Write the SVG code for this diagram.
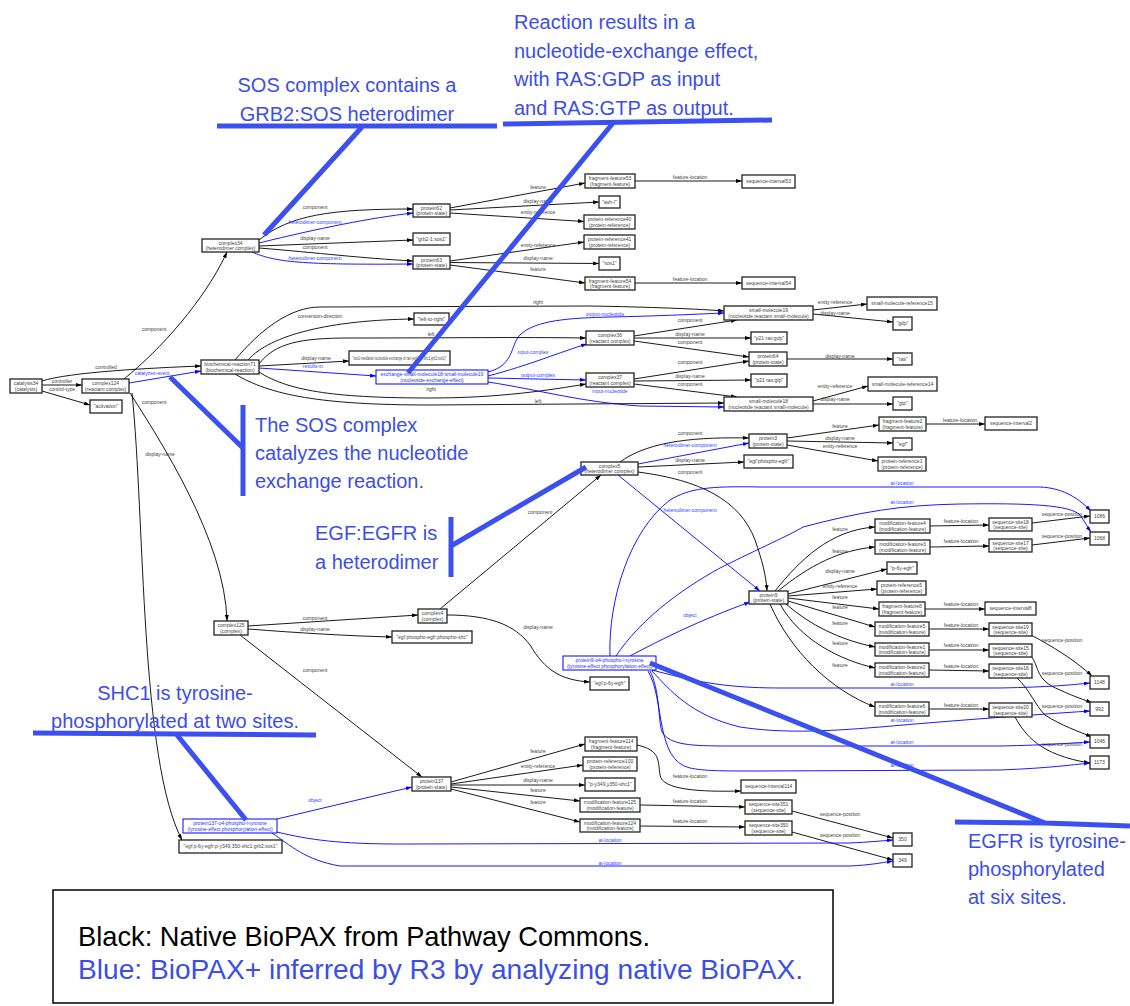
<svg xmlns="http://www.w3.org/2000/svg" width="1130" height="1006" viewBox="0 0 1130 1006">
<defs>
<marker id="ak" markerUnits="userSpaceOnUse" markerWidth="6" markerHeight="4" refX="6" refY="2" orient="auto"><path d="M0,0 L6,2 L0,4 z" fill="#000"/></marker>
<marker id="ab" markerUnits="userSpaceOnUse" markerWidth="6" markerHeight="4" refX="6" refY="2" orient="auto"><path d="M0,0 L6,2 L0,4 z" fill="#0000ff"/></marker>
<style>
.n rect{fill:#fff;stroke:#222;stroke-width:1.3}
.b rect{fill:#fff;stroke:#0000ff;stroke-width:1}
.n text{font-family:"Liberation Sans",Arial,sans-serif;font-size:5px;fill:#444;text-anchor:middle}
.b text{font-family:"Liberation Sans",Arial,sans-serif;font-size:5px;fill:#2233ff;text-anchor:middle}
#edges path{fill:none;stroke:#000;stroke-width:0.9;marker-end:url(#ak)}
#edges path.u{stroke:#0000ff;marker-end:url(#ab)}
#edges text{font-family:"Liberation Sans",Arial,sans-serif;font-size:5px;fill:#444;text-anchor:middle}
#edges text.u{fill:#3344ff}
.ann line,.ann polyline{stroke:#3c50f0;stroke-width:5;fill:none;stroke-linecap:butt}
.ann text{font-family:"Liberation Sans",Arial,sans-serif;font-size:20px;fill:#3c4ee8}
#legend text{font-family:"Liberation Sans",Arial,sans-serif;font-size:28px}
</style>
</defs>
<rect width="1130" height="1006" fill="#fff"/>

<!-- connectors -->
<g id="edges">
<path d="M42,385 L82,385"/><text x="62" y="383">controller</text>
<path d="M42,381 C70,372 150,368 201,366"/><text x="106" y="369">controlled</text>
<path d="M42,391 L90,405"/><text x="62" y="391">control-type</text>
<path d="M124,379 C160,350 205,300 227,252"/><text x="154" y="331">component</text>
<path class="u" d="M129,383 L201,371"/><text class="u" x="152" y="375">catalyzes-event</text>
<path d="M130,393 C160,440 225,540 227,621"/><text x="154" y="404">component</text>
<path d="M132,393 C145,520 140,760 182,840"/><text x="160" y="456">display-name</text>

<path d="M259,240 C290,215 330,209 413,209"/><text x="315" y="209">component</text>
<path class="u" d="M259,243 C320,228 370,218 413,213"/><text class="u" x="315" y="224">heterodimer-component</text>
<path d="M259,246 L413,240"/><text x="315" y="240">display-name</text>
<path d="M259,248 C320,253 360,258 413,261"/><text x="315" y="249">component</text>
<path class="u" d="M252,252 C275,262 300,265 413,264"/><text class="u" x="315" y="260">heterodimer-component</text>

<path d="M450,208 L585,183"/><text x="538" y="189">feature</text>
<path d="M450,210 L599,202"/><text x="538" y="203">display-name</text>
<path d="M450,213 L584,221.5"/><text x="538" y="214">entity-reference</text>
<path d="M450,261 L584,242"/><text x="538" y="247">entity-reference</text>
<path d="M450,262.5 L599,263.5"/><text x="538" y="260">display-name</text>
<path d="M450,265 L585,283"/><text x="538" y="271">feature</text>
<path d="M635,181 L742,181"/><text x="690" y="179">feature-location</text>
<path d="M635,283 L742,283"/><text x="690" y="281">feature-location</text>

<path d="M235,360 C260,330 290,307 320,307 L590,306 C650,307 700,309 724,311"/><text x="538" y="304">right</text>
<path d="M248,360 C270,335 330,320 414,319"/><text x="320" y="318">conversion-direction</text>
<path d="M259,364 C275,343 300,338 350,338 C450,338 520,337 586,338"/><text x="431" y="335.5">left</text>
<path d="M259,366 L349,361"/><text x="316" y="360">display-name</text>
<path class="u" d="M259,368 L376,376"/><text class="u" x="313" y="368">results-in</text>
<path d="M259,372 C290,392 340,398 431,398 C500,398 550,390 586,384"/><text x="431" y="391">right</text>
<path d="M235,374 C270,395 320,405 430,405 L724,403"/><text x="538" y="403">left</text>

<path class="u" d="M488,376 C530,365 560,352 587,344"/><text class="u" x="533" y="354">input-complex</text>
<path class="u" d="M488,372 C515,365 510,345 520,335 C535,320 570,318 610,317 C660,316 700,314 724,313"/><text class="u" x="605" y="316">output-nucleotide</text>
<path class="u" d="M488,378 L586,380"/><text class="u" x="538" y="377">output-complex</text>
<path class="u" d="M488,382 C540,390 580,402 640,406 L724,407"/><text class="u" x="610" y="393">input-nucleotide</text>

<path d="M634,336 L737,320"/><text x="690" y="322">component</text>
<path d="M634,338 L751,338"/><text x="690" y="336">display-name</text>
<path d="M634,341 L749,357"/><text x="690" y="344">component</text>
<path d="M634,379 L749,361"/><text x="690" y="364">component</text>
<path d="M634,381 L751,380"/><text x="690" y="378">display-name</text>
<path d="M634,384 L737,397"/><text x="690" y="386">component</text>
<path d="M813,310 L867,304"/><text x="835" y="304">entity-reference</text>
<path d="M813,314 L893,322"/><text x="835" y="315">display-name</text>
<path d="M787,359 L893,359"/><text x="840" y="357.5">display-name</text>
<path d="M813,401 L868,386"/><text x="835" y="388">entity-reference</text>
<path d="M813,404 L893,404"/><text x="835" y="401">display-name</text>

<path d="M440,609 L601,475"/><text x="540" y="514">component</text>
<path d="M620,462 C650,440 700,437 749,438"/><text x="690" y="435">component</text>
<path class="u" d="M638,464 L749,443"/><text class="u" x="690" y="447">heterodimer-component</text>
<path d="M638,467 L744,462"/><text x="690" y="462">display-name</text>
<path d="M638,472 C700,480 740,500 755,540 C762,560 766,575 767,591"/><text x="690" y="474">component</text>
<path class="u" d="M618,475 L760,591"/><text class="u" x="690" y="512">heterodimer-component</text>
<path d="M787,438 L879,425"/><text x="840" y="427.5">feature</text>
<path d="M787,441 L893,443"/><text x="840" y="440">display-name</text>
<path d="M787,445 L878,461"/><text x="840" y="448">entity-reference</text>
<path d="M926,424 L985,424"/><text x="960" y="422">feature-location</text>

<path d="M775,591 C800,560 830,530 875,527"/><text x="840" y="531">feature</text>
<path d="M778,591 C810,565 840,550 875,547"/><text x="840" y="553">feature</text>
<path d="M788,594 L887,569"/><text x="840" y="573">display-name</text>
<path d="M788,596 L877,589"/><text x="840" y="588">entity-reference</text>
<path d="M788,598 L879,609"/><text x="840" y="599">feature</text>
<path d="M788,601 L875,627"/><text x="840" y="609">feature</text>
<path d="M786,604 C810,625 840,640 875,647"/><text x="840" y="625">feature</text>
<path d="M780,604 C800,640 840,660 875,668"/><text x="840" y="645">feature</text>
<path d="M770,604 C790,650 830,690 875,707"/><text x="840" y="667">feature</text>

<path d="M930,526 L989,525"/><text x="961" y="523">feature-location</text>
<path d="M930,547 L989,546"/><text x="961" y="543">feature-location</text>
<path d="M925,609 L985,609"/><text x="961" y="606">feature-location</text>
<path d="M929,629 L989,629"/><text x="961" y="627">feature-location</text>
<path d="M929,650 L989,650"/><text x="961" y="647">feature-location</text>
<path d="M929,670 L989,671"/><text x="961" y="668">feature-location</text>
<path d="M929,709 L989,709"/><text x="961" y="707">feature-location</text>
<path d="M1032,523 L1090,516"/><text x="1062" y="516">sequence-position</text>
<path d="M1032,545 L1090,538"/><text x="1062" y="538">sequence-position</text>
<path d="M1031,635 C1050,645 1075,660 1092,676"/><text x="1062" y="642">sequence-position</text>
<path d="M1031,656 C1040,668 1035,680 1060,690 C1075,697 1085,700 1092,703"/><text x="1062" y="675">sequence-position</text>
<path d="M1017,678 C1030,690 1035,705 1045,715 C1060,725 1080,732 1092,737"/><text x="1062" y="708">sequence-position</text>
<path d="M1015,717 C1025,735 1040,755 1090,763"/><text x="1062" y="746">sequence-position</text>

<path d="M248,626 L418,615"/><text x="315" y="620">component</text>
<path d="M248,629 C300,633 350,636 392,637"/><text x="315" y="631">display-name</text>
<path d="M240,635 L422,777"/><text x="315" y="672">component</text>
<path d="M447,615 C490,615 515,625 530,645 C545,670 560,680 590,682"/><text x="538" y="629">display-name</text>

<path d="M451,782 L585,744"/><text x="538" y="753">feature</text>
<path d="M451,784 L583,765"/><text x="538" y="768">entity-reference</text>
<path d="M451,785 L585,785"/><text x="538" y="782">display-name</text>
<path d="M451,787 L580,801"/><text x="538" y="792">feature</text>
<path d="M451,789 L580,822"/><text x="538" y="804">feature</text>
<path d="M637,745 C660,750 658,760 660,775 C662,790 700,792 741,791"/><text x="690" y="778">feature-location</text>
<path d="M640,805 L745,807"/><text x="690" y="803">feature-location</text>
<path d="M640,826 L745,827"/><text x="690" y="823">feature-location</text>
<path d="M792,811 L893,838"/><text x="840" y="816">sequence-position</text>
<path d="M792,832 L893,860"/><text x="840" y="837">sequence-position</text>

<path class="u" d="M277,819 L412,787"/><text class="u" x="315" y="802">object</text>
<path class="u" d="M277,832 C310,840 340,844 400,844 L850,843 C870,842 880,841 893,840"/><text class="u" x="610" y="842">at-location</text>
<path class="u" d="M272,833 C290,845 305,860 340,866 L850,866 C870,865 880,863 893,861"/><text class="u" x="610" y="865">at-location</text>

<path class="u" d="M630,656 C660,640 700,620 750,602"/><text class="u" x="690" y="617">object</text>
<path class="u" d="M610,656 C608,600 630,530 670,500 C690,488 710,486 760,487 L1040,487 C1065,488 1080,500 1091,511"/><text class="u" x="902" y="485">at-location</text>
<path class="u" d="M616,656 C640,620 680,590 720,568 C760,548 790,535 803,527 C860,512 900,505 960,504 C1030,503 1070,505 1080,515 C1085,522 1088,528 1091,532"/><text class="u" x="902" y="504">at-location</text>
<path class="u" d="M652,670 C690,680 720,688 780,688 L1000,688 C1050,687 1070,685 1090,683"/><text class="u" x="902" y="686">at-location</text>
<path class="u" d="M652,671 C670,690 690,715 740,727 C780,733 820,732 880,727 C960,720 1030,715 1090,711"/><text class="u" x="902" y="722">at-location</text>
<path class="u" d="M650,671 C660,690 658,720 662,732 C670,745 690,746 730,746 L1000,746 C1050,745 1070,743 1090,742"/><text class="u" x="902" y="744">at-location</text>
<path class="u" d="M648,671 C665,700 655,760 690,768 C705,771 720,771 760,771 L1000,770 C1050,768 1070,765 1090,763"/><text class="u" x="902" y="767">at-location</text>
</g>

<!-- nodes -->
<g id="catalysis34" class="n"><rect x="10" y="379" width="32" height="14"/><text x="26" y="385">catalysis34</text><text x="26" y="390.5">(catalysis)</text></g>
<g id="complex124" class="n"><rect x="82" y="379" width="47" height="14"/><text x="105.5" y="385">complex124</text><text x="105.5" y="390.5">(reactant complex)</text></g>
<g id="activation" class="n"><rect x="90" y="400" width="32" height="13"/><text x="106" y="408.3">"activation"</text></g>
<g id="complex34" class="n"><rect x="202" y="239" width="57" height="13"/><text x="230.5" y="244.8">complex34</text><text x="230.5" y="250">(heterodimer complex)</text></g>
<g id="biochemical-reaction71" class="n"><rect x="201" y="360" width="58" height="14"/><text x="230" y="366">biochemical-reaction71</text><text x="230" y="371.5">(biochemical-reaction)</text></g>
<g id="protein62" class="n"><rect x="413" y="204" width="37" height="13"/><text x="431.5" y="209.8">protein62</text><text x="431.5" y="215">(protein-state)</text></g>
<g id="grb2-sos1" class="n"><rect x="413" y="233" width="37" height="12"/><text x="431.5" y="240.8">"grb2-1:sos1"</text></g>
<g id="protein63" class="n"><rect x="413" y="256" width="37" height="13"/><text x="431.5" y="261.8">protein63</text><text x="431.5" y="267">(protein-state)</text></g>
<g id="fragment-feature53" class="n"><rect x="585" y="174" width="50" height="14"/><text x="610" y="180">fragment-feature53</text><text x="610" y="185.5">(fragment-feature)</text></g>
<g id="sequence-interval53" class="n"><rect x="742" y="175" width="53" height="13"/><text x="768.5" y="183.3">sequence-interval53</text></g>
<g id="ash-l" class="n"><rect x="599" y="196" width="21" height="12"/><text x="609.5" y="203.8">"ash-l"</text></g>
<g id="protein-reference40" class="n"><rect x="584" y="215" width="51" height="14"/><text x="609.5" y="221">protein-reference40</text><text x="609.5" y="226.5">(protein-reference)</text></g>
<g id="protein-reference41" class="n"><rect x="584" y="235" width="51" height="14"/><text x="609.5" y="241">protein-reference41</text><text x="609.5" y="246.5">(protein-reference)</text></g>
<g id="sos1" class="n"><rect x="599" y="257" width="21" height="13"/><text x="609.5" y="265.3">"sos1"</text></g>
<g id="fragment-feature54" class="n"><rect x="585" y="277" width="50" height="13"/><text x="610" y="282.8">fragment-feature54</text><text x="610" y="288">(fragment-feature)</text></g>
<g id="sequence-interval54" class="n"><rect x="742" y="277" width="53" height="12"/><text x="768.5" y="284.8">sequence-interval54</text></g>
<g id="left-to-right" class="n"><rect x="414" y="313" width="35" height="12"/><text x="431.5" y="320.8">"left-to-right"</text></g>
<g id="small-molecule19" class="n"><rect x="724" y="306" width="89" height="14"/><text x="768.5" y="312">small-molecule19</text><text x="768.5" y="317.5">(nucleotide reactant small-molecule)</text></g>
<g id="small-molecule-reference15" class="n"><rect x="867" y="297" width="70" height="13"/><text x="902" y="305.3">small-molecule-reference15</text></g>
<g id="gdp" class="n"><rect x="893" y="317" width="19" height="13"/><text x="902.5" y="325.3">"gdp"</text></g>
<g id="sos1-mediated" class="n"><rect x="349" y="351" width="101" height="14"/><text x="399.5" y="359.8" textLength="94" lengthAdjust="spacingAndGlyphs">"sos1-mediated nucleotide exchange of ras (egf:egfr:shc1:grb2:sos1)"</text></g>
<g id="exchange-effect" class="b"><rect x="376" y="370" width="112" height="14"/><text x="432" y="376">exchange-small-molecule18-small-molecule19</text><text x="432" y="381.5">(nucleotide-exchange-effect)</text></g>
<g id="complex36" class="n"><rect x="586" y="331" width="48" height="14"/><text x="610" y="337">complex36</text><text x="610" y="342.5">(reactant complex)</text></g>
<g id="complex37" class="n"><rect x="586" y="373" width="48" height="14"/><text x="610" y="379">complex37</text><text x="610" y="384.5">(reactant complex)</text></g>
<g id="p21-ras-gdp" class="n"><rect x="751" y="332" width="36" height="12"/><text x="769" y="339.8">"p21 ras:gdp"</text></g>
<g id="protein64" class="n"><rect x="749" y="352" width="38" height="14"/><text x="768" y="358">protein64</text><text x="768" y="363.5">(protein-state)</text></g>
<g id="ras" class="n"><rect x="893" y="353" width="19" height="12"/><text x="902.5" y="360.8">"ras"</text></g>
<g id="p21-ras-gtp" class="n"><rect x="751" y="374" width="36" height="13"/><text x="769" y="382.3">"p21 ras:gtp"</text></g>
<g id="small-molecule-reference14" class="n"><rect x="868" y="377" width="69" height="14"/><text x="902.5" y="385.8">small-molecule-reference14</text></g>
<g id="small-molecule18" class="n"><rect x="724" y="397" width="89" height="14"/><text x="768.5" y="403">small-molecule18</text><text x="768.5" y="408.5">(nucleotide reactant small-molecule)</text></g>
<g id="gtp" class="n"><rect x="893" y="397" width="19" height="13"/><text x="902.5" y="405.3">"gtp"</text></g>

<g id="complex5" class="n"><rect x="581" y="462" width="57" height="13"/><text x="609.5" y="467.8">complex5</text><text x="609.5" y="473">(heterodimer complex)</text></g>
<g id="protein3" class="n"><rect x="749" y="434" width="38" height="14"/><text x="768" y="440">protein3</text><text x="768" y="445.5">(protein-state)</text></g>
<g id="egf-phospho-egfr" class="n"><rect x="744" y="455" width="49" height="13"/><text x="768.5" y="463.3">"egf:phospho-egfr"</text></g>
<g id="fragment-feature2" class="n"><rect x="879" y="417" width="47" height="14"/><text x="902.5" y="423">fragment-feature2</text><text x="902.5" y="428.5">(fragment-feature)</text></g>
<g id="egf" class="n"><rect x="893" y="438" width="19" height="12"/><text x="902.5" y="445.8">"egf"</text></g>
<g id="protein-reference1" class="n"><rect x="878" y="457" width="48" height="14"/><text x="902" y="463">protein-reference1</text><text x="902" y="468.5">(protein-reference)</text></g>
<g id="sequence-interval2" class="n"><rect x="985" y="417" width="52" height="13"/><text x="1011" y="425.3">sequence-interval2</text></g>
<g id="modification-feature4" class="n"><rect x="875" y="519" width="55" height="14"/><text x="902.5" y="525">modification-feature4</text><text x="902.5" y="530.5">(modification-feature)</text></g>
<g id="sequence-site18" class="n"><rect x="989" y="518" width="43" height="13"/><text x="1010.5" y="523.8">sequence-site18</text><text x="1010.5" y="529">(sequence-site)</text></g>
<g id="modification-feature3" class="n"><rect x="875" y="540" width="55" height="14"/><text x="902.5" y="546">modification-feature3</text><text x="902.5" y="551.5">(modification-feature)</text></g>
<g id="sequence-site17" class="n"><rect x="989" y="539" width="43" height="13"/><text x="1010.5" y="544.8">sequence-site17</text><text x="1010.5" y="550">(sequence-site)</text></g>
<g id="pos1086" class="n"><rect x="1090" y="510" width="19" height="13"/><text x="1099.5" y="518.3">1086</text></g>
<g id="pos1068" class="n"><rect x="1090" y="532" width="19" height="13"/><text x="1099.5" y="540.3">1068</text></g>
<g id="p-6y-egfr" class="n"><rect x="887" y="562" width="30" height="12"/><text x="902" y="569.8">"p-6y-egfr"</text></g>
<g id="protein-reference5" class="n"><rect x="877" y="581" width="49" height="14"/><text x="901.5" y="587">protein-reference5</text><text x="901.5" y="592.5">(protein-reference)</text></g>
<g id="fragment-feature8" class="n"><rect x="879" y="602" width="46" height="14"/><text x="902" y="608">fragment-feature8</text><text x="902" y="613.5">(fragment-feature)</text></g>
<g id="sequence-interval8" class="n"><rect x="985" y="602" width="51" height="13"/><text x="1010.5" y="610.3">sequence-interval8</text></g>
<g id="modification-feature5" class="n"><rect x="875" y="622" width="54" height="14"/><text x="902" y="628">modification-feature5</text><text x="902" y="633.5">(modification-feature)</text></g>
<g id="sequence-site19" class="n"><rect x="989" y="623" width="43" height="13"/><text x="1010.5" y="628.8">sequence-site19</text><text x="1010.5" y="634">(sequence-site)</text></g>
<g id="modification-feature1" class="n"><rect x="875" y="643" width="54" height="13"/><text x="902" y="648.8">modification-feature1</text><text x="902" y="654">(modification-feature)</text></g>
<g id="sequence-site15" class="n"><rect x="989" y="644" width="43" height="13"/><text x="1010.5" y="649.8">sequence-site15</text><text x="1010.5" y="655">(sequence-site)</text></g>
<g id="modification-feature2" class="n"><rect x="875" y="663" width="54" height="14"/><text x="902" y="669">modification-feature2</text><text x="902" y="674.5">(modification-feature)</text></g>
<g id="sequence-site16" class="n"><rect x="989" y="664" width="43" height="14"/><text x="1010.5" y="670">sequence-site16</text><text x="1010.5" y="675.5">(sequence-site)</text></g>
<g id="pos1148" class="n"><rect x="1090" y="676" width="19" height="13"/><text x="1099.5" y="684.3">1148</text></g>
<g id="modification-feature6" class="n"><rect x="875" y="702" width="54" height="14"/><text x="902" y="708">modification-feature6</text><text x="902" y="713.5">(modification-feature)</text></g>
<g id="sequence-site20" class="n"><rect x="989" y="703" width="43" height="14"/><text x="1010.5" y="709">sequence-site20</text><text x="1010.5" y="714.5">(sequence-site)</text></g>
<g id="pos992" class="n"><rect x="1090" y="702" width="19" height="14"/><text x="1099.5" y="710.8">992</text></g>
<g id="pos1045" class="n"><rect x="1090" y="735" width="19" height="13"/><text x="1099.5" y="743.3">1045</text></g>
<g id="pos1173" class="n"><rect x="1090" y="756" width="19" height="13"/><text x="1099.5" y="764.3">1173</text></g>
<g id="protein9" class="n"><rect x="749" y="591" width="39" height="13"/><text x="768.5" y="596.8">protein9</text><text x="768.5" y="602">(protein-state)</text></g>
<g id="protein9-effect" class="b"><rect x="563" y="656" width="93" height="14"/><text x="609.5" y="662">protein9-o4-phospho-l-tyrosine</text><text x="609.5" y="667.5">(tyrosine-effect phosphorylation-effect)</text></g>
<g id="egf-p-6y-egfr" class="n"><rect x="590" y="677" width="39" height="13"/><text x="609.5" y="685.3">"egf:p-6y-egfr"</text></g>
<g id="complex125" class="n"><rect x="214" y="621" width="34" height="14"/><text x="231" y="627">complex125</text><text x="231" y="632.5">(complex)</text></g>
<g id="complex4" class="n"><rect x="418" y="609" width="29" height="14"/><text x="432.5" y="615">complex4</text><text x="432.5" y="620.5">(complex)</text></g>
<g id="egf-phospho-shc" class="n"><rect x="392" y="631" width="80" height="12"/><text x="432" y="638.8">"egf:phospho-egfr:phospho-shc"</text></g>
<g id="protein137" class="n"><rect x="412" y="777" width="39" height="14"/><text x="431.5" y="783">protein137</text><text x="431.5" y="788.5">(protein-state)</text></g>
<g id="protein137-effect" class="b"><rect x="183" y="819" width="94" height="14"/><text x="230" y="825">protein137-o4-phospho-l-tyrosine</text><text x="230" y="830.5">(tyrosine-effect phosphorylation-effect)</text></g>
<g id="egf-sos1-name" class="n"><rect x="179" y="840" width="103" height="13"/><text x="230.5" y="848.3">"egf:p-6y-egfr:p-y349,350-shc1:grb2:sos1"</text></g>
<g id="fragment-feature114" class="n"><rect x="585" y="737" width="52" height="14"/><text x="611" y="743">fragment-feature114</text><text x="611" y="748.5">(fragment-feature)</text></g>
<g id="protein-reference100" class="n"><rect x="583" y="757" width="54" height="14"/><text x="610" y="763">protein-reference100</text><text x="610" y="768.5">(protein-reference)</text></g>
<g id="p-y349-y350-shc1" class="n"><rect x="585" y="778" width="50" height="13"/><text x="610" y="786.3">"p-y349,y350-shc1"</text></g>
<g id="modification-feature125" class="n"><rect x="580" y="798" width="60" height="14"/><text x="610" y="804">modification-feature125</text><text x="610" y="809.5">(modification-feature)</text></g>
<g id="modification-feature124" class="n"><rect x="580" y="819" width="60" height="13"/><text x="610" y="824.8">modification-feature124</text><text x="610" y="830">(modification-feature)</text></g>
<g id="sequence-interval114" class="n"><rect x="741" y="780" width="55" height="13"/><text x="768.5" y="788.3">sequence-interval114</text></g>
<g id="sequence-site351" class="n"><rect x="745" y="800" width="47" height="14"/><text x="768.5" y="806">sequence-site351</text><text x="768.5" y="811.5">(sequence-site)</text></g>
<g id="sequence-site350" class="n"><rect x="745" y="821" width="47" height="14"/><text x="768.5" y="827">sequence-site350</text><text x="768.5" y="832.5">(sequence-site)</text></g>
<g id="pos350" class="n"><rect x="893" y="833" width="19" height="13"/><text x="902.5" y="841.3">350</text></g>
<g id="pos349" class="n"><rect x="893" y="854" width="19" height="13"/><text x="902.5" y="862.3">349</text></g>

<!-- callouts -->
<g class="ann">
<text x="347" y="92" text-anchor="middle">SOS complex contains a</text>
<text x="347" y="121" text-anchor="middle">GRB2:SOS heterodimer</text>
<line x1="217" y1="126" x2="497" y2="126"/>
<line x1="362" y1="127" x2="264" y2="235"/>

<text x="514" y="29">Reaction results in a</text>
<text x="514" y="58">nucleotide-exchange effect,</text>
<text x="514" y="86">with RAS:GDP as input</text>
<text x="514" y="115">and RAS:GTP as output.</text>
<line x1="503" y1="124" x2="772" y2="120"/>
<line x1="613" y1="123" x2="408" y2="373"/>

<text x="255" y="432">The SOS complex</text>
<text x="255" y="460">catalyzes the nucleotide</text>
<text x="255" y="488">exchange reaction.</text>
<line x1="243" y1="405" x2="243" y2="496"/>
<line x1="170" y1="377" x2="243" y2="448"/>

<text x="315" y="540">EGF:EGFR is</text>
<text x="315" y="569">a heterodimer</text>
<line x1="451" y1="517" x2="451" y2="577"/>
<line x1="451" y1="546" x2="586" y2="467"/>

<text x="175" y="700" text-anchor="middle">SHC1 is tyrosine-</text>
<text x="175" y="728" text-anchor="middle">phosphorylated at two sites.</text>
<line x1="33" y1="733" x2="316" y2="735"/>
<line x1="177" y1="735" x2="246" y2="820"/>

<text x="968" y="848">EGFR is tyrosine-</text>
<text x="968" y="876">phosphorylated</text>
<text x="968" y="904">at six sites.</text>
<polyline points="650,663 1045,823 1130,826"/>
<line x1="955" y1="822" x2="1045" y2="823"/>
</g>

<g id="legend">
<rect x="53" y="890" width="780" height="113" fill="none" stroke="#000" stroke-width="1.5"/>
<text x="78" y="946" fill="#000" textLength="572" lengthAdjust="spacingAndGlyphs">Black: Native BioPAX from Pathway Commons.</text>
<text x="78" y="979" fill="#3c4ee8" textLength="725" lengthAdjust="spacingAndGlyphs">Blue: BioPAX+ inferred by R3 by analyzing native BioPAX.</text>
</g>
</svg>
